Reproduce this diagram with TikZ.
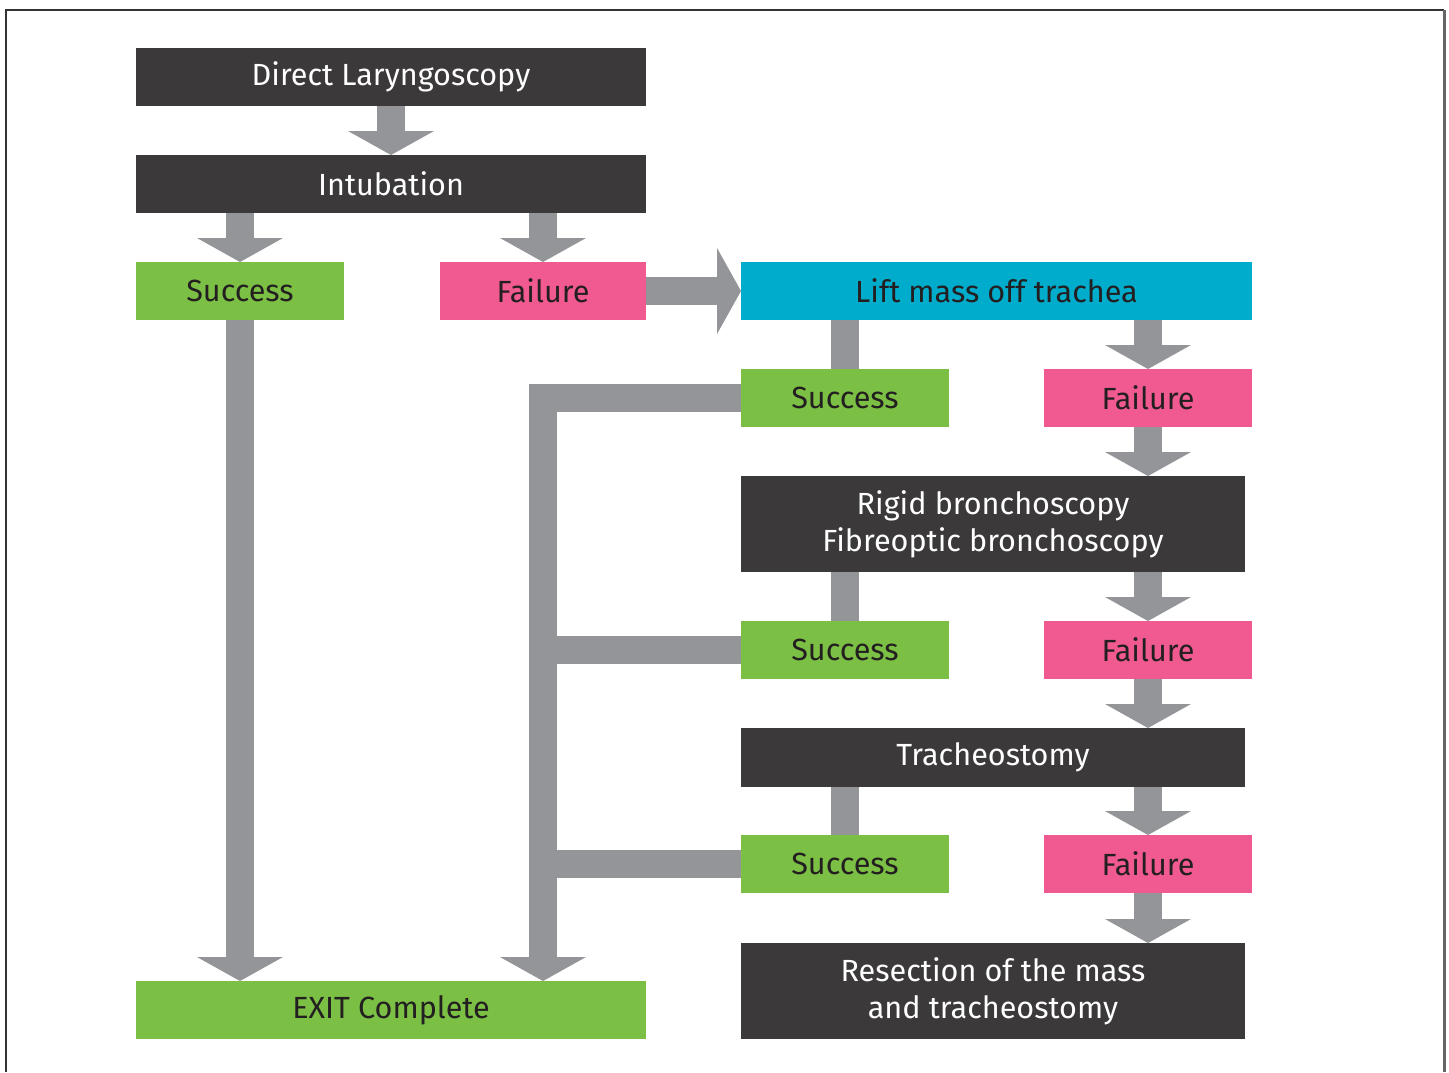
\documentclass[tikz,border=0pt]{standalone}
\usepackage{fontspec}
\setmainfont{Fira Sans}
\usetikzlibrary{arrows.meta}
\definecolor{dk}{HTML}{3B3939}
\definecolor{gn}{HTML}{7BBF44}
\definecolor{pk}{HTML}{F05A91}
\definecolor{cy}{HTML}{00ACCB}
\definecolor{ar}{HTML}{939598}
\definecolor{tx}{HTML}{231F20}
\begin{document}
\begin{tikzpicture}[x=1pt,y=-1pt,
  box/.style={rectangle, inner sep=0pt, outer sep=0pt, minimum height=58pt,
    font=\fontsize{30.6}{37}\selectfont, align=center},
  darkbox/.style={box, fill=dk, text=white},
  greenbox/.style={box, fill=gn, text=tx},
  pinkbox/.style={box, fill=pk, text=tx},
  cyanbox/.style={box, fill=cy, text=tx},
  bar/.style={draw=ar, line width=28pt, line cap=butt, line join=miter},
  barrow/.style={bar, -{Triangle[width=86pt,length=24pt,line width=0pt]}}]
\useasboundingbox (0,0) rectangle (1449,1072);
\fill[white] (0,0) rectangle (1449,1072);
\draw[line width=1.5pt, color=black!80] (6,1072) -- (6,10) -- (1444,10);
\draw[line width=3pt, color=black!60] (1444,10) -- (1444,1072);

\node[darkbox, minimum width=510pt] (dl) at (391,77) {Direct Laryngoscopy};
\node[darkbox, minimum width=510pt] (intub) at (391,184) {Intubation};
\node[greenbox, minimum width=208pt] (sL) at (240,291) {Success};
\node[pinkbox, minimum width=206pt] (fL) at (543,291) {Failure};
\node[cyanbox, minimum width=511pt] (lift) at (996.5,291) {Lift mass off trachea};
\node[greenbox, minimum width=208pt] (s2) at (845,398) {Success};
\node[pinkbox, minimum width=208pt] (f2) at (1148,398) {Failure};
\node[darkbox, minimum width=504pt, minimum height=96pt] (rigid) at (993,524) {Rigid bronchoscopy\\Fibreoptic bronchoscopy};
\node[greenbox, minimum width=208pt] (s3) at (845,650) {Success};
\node[pinkbox, minimum width=208pt] (f3) at (1148,650) {Failure};
\node[darkbox, minimum width=504pt, minimum height=59pt] (trach) at (993,757.5) {Tracheostomy};
\node[greenbox, minimum width=208pt] (s4) at (845,864) {Success};
\node[pinkbox, minimum width=208pt] (f4) at (1148,864) {Failure};
\node[darkbox, minimum width=504pt, minimum height=96pt] (resect) at (993,991) {Resection of the mass\\and tracheostomy};
\node[greenbox, minimum width=510pt] (exit) at (391,1010) {EXIT Complete};

\draw[barrow] (dl.south) -- (intub.north);
\draw[barrow] (sL.north |- intub.south) -- (sL.north);
\draw[barrow] (fL.north |- intub.south) -- (fL.north);
\draw[barrow] (fL.east) -- (lift.west);
\draw[bar] (s2.north |- lift.south) -- (s2.north);
\draw[barrow] (f2.north |- lift.south) -- (f2.north);
\draw[barrow] (f2.south) -- (f2.south |- rigid.north);
\draw[bar] (s3.north |- rigid.south) -- (s3.north);
\draw[barrow] (f3.north |- rigid.south) -- (f3.north);
\draw[barrow] (f3.south) -- (f3.south |- trach.north);
\draw[bar] (s4.north |- trach.south) -- (s4.north);
\draw[barrow] (f4.north |- trach.south) -- (f4.north);
\draw[barrow] (f4.south) -- (f4.south |- resect.north);
\draw[barrow] (sL.south) -- (sL.south |- exit.north);
\draw[barrow] (s2.west) -| (fL.south |- exit.north);
\draw[bar] (s3.west) -- (s3.west -| fL.south);
\draw[bar] (s4.west) -- (s4.west -| fL.south);
\end{tikzpicture}
\end{document}
